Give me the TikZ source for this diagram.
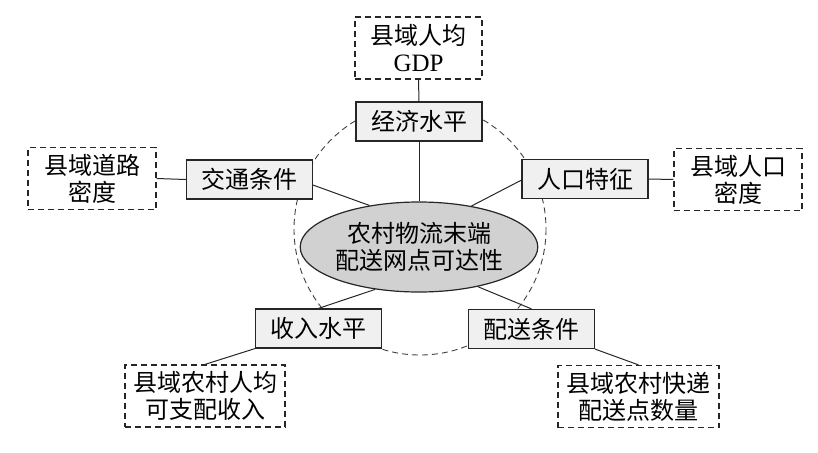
\documentclass[tikz,border=0pt]{standalone}
\usepackage{fontspec}
\setmainfont{Liberation Serif}
\newfontfamily\cjk{Noto Sans CJK SC}
\usetikzlibrary{shapes.geometric}
\begin{document}
\begin{tikzpicture}[x=1pt,y=-1pt,font=\cjk\fontsize{24}{27}\selectfont,
factor/.style={draw=black!85,line width=1.2pt,fill=black!6,minimum width=126pt,minimum height=39pt,inner sep=0pt},
index/.style={draw=black!85,line width=1.2pt,dash pattern=on 6pt off 4pt,minimum height=62pt,inner sep=0pt,align=center},
link/.style={draw=black!85,line width=1pt}]
\useasboundingbox (0,0) rectangle (818,452);
\draw[black!75,line width=0.9pt,dash pattern=on 6pt off 4pt] (420,229) circle (126);
\node[draw=black!85,line width=1.2pt,ellipse,fill=black!18,minimum width=194pt,minimum height=90pt,inner sep=0pt,align=center] (core) at (419,247) {农村物流末端\\配送网点可达性};
\node[factor] (econ) at (419,121.5) {经济水平};
\node[factor] (traffic) at (249.5,179.5) {交通条件};
\node[factor] (people) at (585,179) {人口特征};
\node[factor] (income) at (318.5,328.5) {收入水平};
\node[factor] (deliver) at (531.5,329) {配送条件};
\node[index,minimum width=127pt] (gdp) at (418.5,48) {县域人均\\{\rmfamily\fontsize{25}{27}\selectfont GDP}};
\node[index,minimum width=128pt] (road) at (92,178.5) {县域道路\\密度};
\node[index,minimum width=128pt] (density) at (738,179.5) {县域人口\\密度};
\node[index,minimum width=160pt] (rural) at (205,396) {县域农村人均\\可支配收入};
\node[index,minimum width=161pt] (express) at (638.5,396.5) {县域农村快递\\配送点数量};
\draw[link] (gdp.south)--(econ.north);
\draw[link] (econ.south)--(core.north);
\draw[link] (road.east)--(traffic.west);
\draw[link] (people.east)--(density.west);
\draw[link] (traffic.-5)--(core.140);
\draw[link] (people.-179)--(core.38);
\draw[link] (core.224)--(income.north);
\draw[link] (core.-34)--(deliver.north);
\draw[link] (income.south west)--(rural.north);
\draw[link] (deliver.south east)--(express.north);
\end{tikzpicture}
\end{document}
